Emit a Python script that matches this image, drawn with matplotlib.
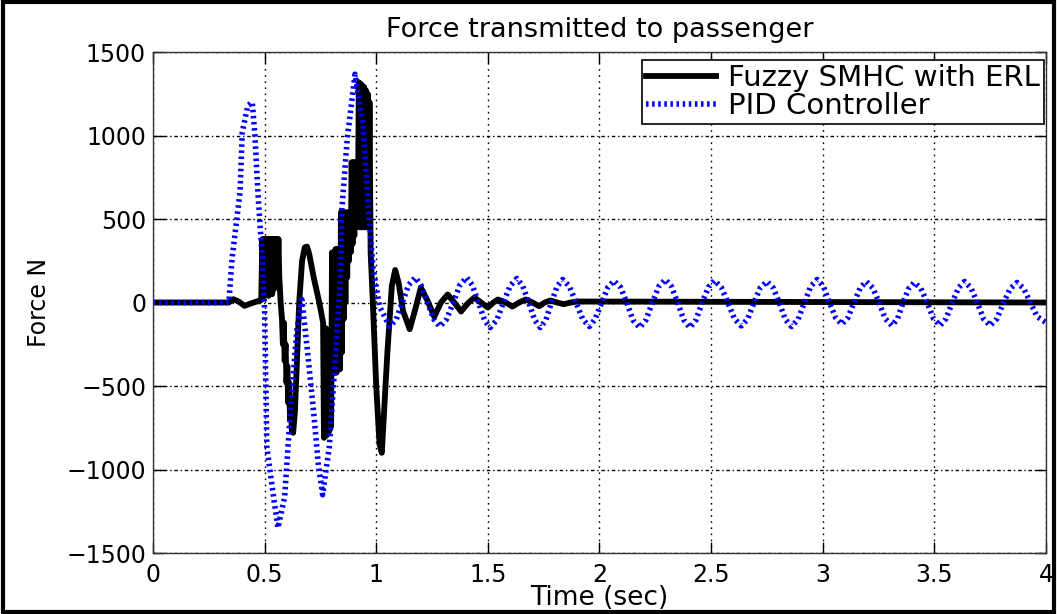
import matplotlib
matplotlib.use('Agg')
import matplotlib.pyplot as plt
from matplotlib.patches import Rectangle

# Fuzzy SMHC with ERL (black), (time, force),
# the chattering parts are dense up/down points
smhc_pts = [
    (0.00, 0), (0.34, 0), (0.36, 20), (0.385, 5), (0.41, -20), (0.44, -5),
    (0.47, 8), (0.485, 15),
    (0.490, 380), (0.494, 40), (0.498, 380), (0.502, 40), (0.506, 380),
    (0.510, 50), (0.514, 380), (0.518, 40), (0.522, 380), (0.526, 60),
    (0.530, 380), (0.534, 50), (0.538, 380), (0.542, 80), (0.546, 380),
    (0.550, 100), (0.554, 380), (0.558, 120), (0.562, 380), (0.566, 150),
    (0.572, 0), (0.578, -100), (0.582, -250), (0.586, -120), (0.590, -350),
    (0.594, -250), (0.598, -480), (0.602, -380), (0.606, -600), (0.610, -480),
    (0.614, -700), (0.618, -600), (0.622, -770), (0.628, -780), (0.636, -650),
    (0.645, -350), (0.655, 0), (0.668, 250), (0.68, 330), (0.69, 335),
    (0.70, 290), (0.72, 150), (0.745, 0), (0.762, -120),
    (0.766, -810), (0.770, -150), (0.774, -800), (0.778, -160), (0.782, -790),
    (0.786, -170), (0.790, -770), (0.794, -160), (0.798, -740),
    (0.802, 300), (0.806, -420), (0.810, 300), (0.814, -420), (0.818, 320),
    (0.822, -420), (0.826, 320), (0.830, -400), (0.834, 320), (0.838, -400),
    (0.842, 540), (0.846, -300), (0.850, 540), (0.854, -100), (0.858, 540),
    (0.862, 0), (0.866, 540), (0.870, 150), (0.874, 540), (0.878, 250),
    (0.882, 540), (0.886, 300),
    (0.890, 840), (0.894, 350), (0.898, 840), (0.902, 400), (0.906, 840),
    (0.910, 450), (0.914, 840), (0.918, 500),
    (0.922, 1319), (0.926, 450), (0.930, 1310), (0.934, 450), (0.938, 1300),
    (0.942, 450), (0.946, 1290), (0.950, 450), (0.954, 1270), (0.958, 450),
    (0.962, 1250), (0.966, 480), (0.970, 1200),
    (0.975, 300), (0.985, 0), (1.00, -500), (1.015, -850), (1.025, -900),
    (1.05, -300), (1.07, 100), (1.085, 195), (1.10, 120), (1.12, -50),
    (1.15, -160), (1.175, -40), (1.20, 90), (1.23, 10), (1.26, -85), (1.29, 0),
    (1.32, 48), (1.35, 0), (1.38, -54), (1.41, -5), (1.44, 30), (1.47, 0),
    (1.50, -30), (1.525, 0), (1.545, 18), (1.58, 0), (1.61, -24), (1.64, 0),
    (1.67, 18), (1.70, 0), (1.73, -22), (1.755, 0), (1.78, 12), (1.81, 0),
    (1.84, -10), (1.87, 0), (1.90, 6), (4.00, 0),
]

# PID Controller (blue dotted)
t_pid = [0.00, 0.34, 0.354, 0.39, 0.40, 0.425, 0.445, 0.457, 0.47, 0.488,
         0.50, 0.51, 0.54, 0.56, 0.59, 0.615, 0.645, 0.667, 0.69, 0.72,
         0.74, 0.76, 0.79, 0.815, 0.84, 0.845, 0.87, 0.905, 0.94, 0.965,
         0.985, 1.015, 1.06,
         1.09, 1.117, 1.145, 1.175, 1.20, 1.23, 1.258, 1.285,
         1.315, 1.345, 1.375, 1.405, 1.43, 1.458, 1.485, 1.51,
         1.54, 1.57, 1.60, 1.63, 1.656, 1.683, 1.71, 1.735,
         1.76, 1.785, 1.81, 1.835, 1.865, 1.895, 1.925, 1.955,
         1.98, 2.01, 2.038, 2.065, 2.094, 2.122, 2.15, 2.18,
         2.208, 2.237, 2.266, 2.295, 2.322, 2.35, 2.378, 2.405,
         2.432, 2.46, 2.488, 2.515, 2.545, 2.575, 2.605, 2.635,
         2.664, 2.692, 2.72, 2.75, 2.778, 2.805, 2.832, 2.86,
         2.89, 2.918, 2.946, 2.975, 3.003, 3.03, 3.058, 3.085,
         3.112, 3.14, 3.168, 3.195, 3.224, 3.252, 3.28, 3.31,
         3.335, 3.36, 3.385, 3.41, 3.44, 3.468, 3.496, 3.525,
         3.552, 3.58, 3.608, 3.635, 3.664, 3.692, 3.72, 3.75,
         3.78, 3.81, 3.84, 3.87, 3.90, 3.93, 3.96, 4.00]
f_pid = [0, 0, 258, 660, 1019, 1180, 1199, 995, 660, 300,
         -40, -863, -1163, -1349, -1163, -660, -160, 18, -264, -660,
         -960, -1151, -863, -360, 138, 540, 977, 1367, 1079, 575,
         216, -24, -144,
         -100, 0, 105, 150, 105, 0, -100, -144,
         -100, 0, 105, 150, 105, 0, -105, -150,
         -105, 0, 100, 144, 100, 0, -105, -150,
         -105, 0, 97, 138, 97, 0, -100, -144,
         -100, 0, 92, 130, 92, 0, -105, -150,
         -105, 0, 97, 138, 97, 0, -105, -150,
         -105, 0, 92, 132, 92, 0, -98, -140,
         -98, 0, 88, 126, 88, 0, -100, -144,
         -100, 0, 97, 138, 97, 0, -92, -130,
         -92, 0, 88, 126, 88, 0, -97, -138,
         -97, 0, 84, 120, 84, 0, -97, -138,
         -97, 0, 88, 126, 88, 0, -97, -138,
         -97, 0, 84, 120, 84, 0, -84, -120]

x_ticks = [0, 0.5, 1, 1.5, 2, 2.5, 3, 3.5, 4]
x_tick_labels = ['0', '0.5', '1', '1.5', '2', '2.5', '3', '3.5', '4']
y_ticks = [-1500, -1000, -500, 0, 500, 1000, 1500]

t_smhc, f_smhc = zip(*smhc_pts)

fig = plt.figure(figsize=(10.57, 6.14), dpi=100)
ax = fig.add_axes([0.1447, 0.0993, 0.8449, 0.8160])

ax.plot(t_smhc, f_smhc, color='k', lw=4.2, label='Fuzzy SMHC with ERL')
ax.plot(t_pid, f_pid, color=(0, 0, 1), lw=4, ls=(0, (0.45, 0.65)),
        label='PID Controller')

ax.set_xlim(0, 4)
ax.set_ylim(-1500, 1500)
ax.set_xticks(x_ticks)
ax.set_xticklabels(x_tick_labels)
ax.set_yticks(y_ticks)
ax.tick_params(direction='in', top=True, right=True, length=8, width=1,
               labelsize=17, pad=5)
ax.tick_params(axis='x', pad=7)

# matlab style grid
ax.grid(axis='x', color='k', lw=1, ls=(0, (1.2, 3.2)))
ax.grid(axis='y', color='k', lw=1, ls=(0, (2.5, 2, 1, 2)))
for s in ax.spines.values():
    s.set_color('#333333')
    s.set_linewidth(1)

ax.set_title('Force transmitted to passenger', fontsize=19.5, pad=11)
ax.set_xlabel('Time (sec)', fontsize=19, labelpad=-1)
ax.set_ylabel('Force N', fontsize=17, labelpad=11)

leg = ax.legend(loc='upper right', bbox_to_anchor=(0.998, 0.985),
                fontsize=21, fancybox=False, edgecolor='k', framealpha=1,
                borderpad=0.15, labelspacing=0, handlelength=2.4,
                handletextpad=0.4, borderaxespad=0)
leg.get_frame().set_linewidth(1.2)

# black frame around the whole figure
fig.patches.append(Rectangle((0.003, 0.004), 0.994, 0.992, transform=fig.transFigure,
                             fill=False, edgecolor='k', lw=3))

fig.savefig('out.png', dpi=100)
